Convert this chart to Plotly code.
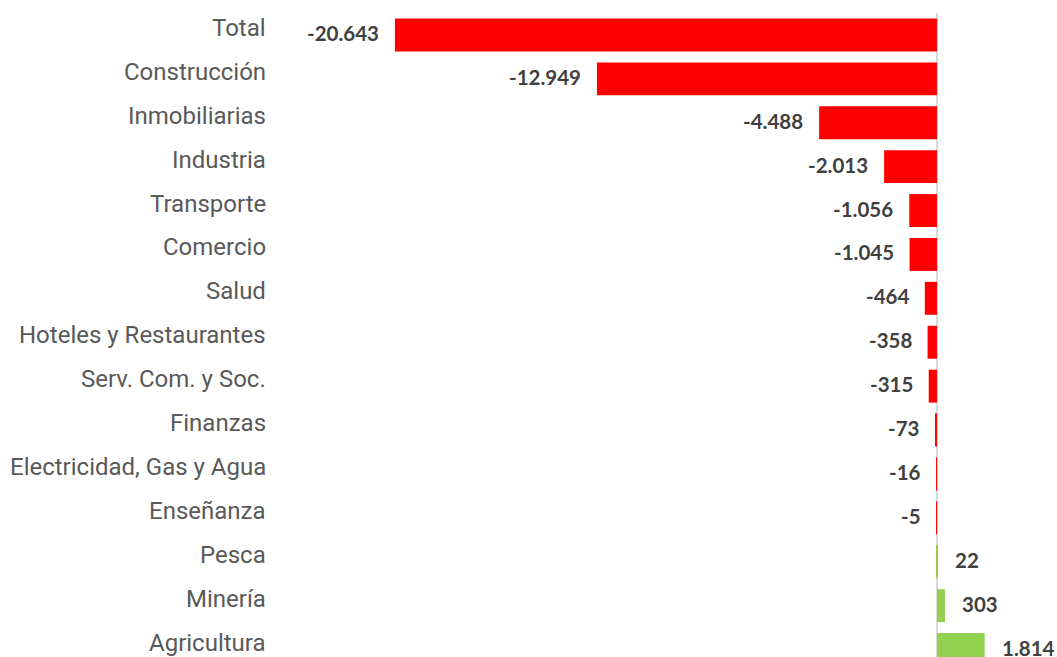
import plotly.graph_objects as go

categories = ["Total", "Construcción", "Inmobiliarias", "Industria", "Transporte",
              "Comercio", "Salud", "Hoteles y Restaurantes", "Serv. Com. y Soc.",
              "Finanzas", "Electricidad, Gas y Agua", "Enseñanza", "Pesca",
              "Minería", "Agricultura"]
values = [-20643, -12949, -4488, -2013, -1056, -1045, -464, -358, -315, -73,
          -16, -5, 22, 303, 1814]

RED = "#ff0000"
GREEN = "#92d050"
colors = [RED if v < 0 else GREEN for v in values]

def fmt(v):
    return f"{v:,}".replace(",", ".")

fig = go.Figure(go.Bar(
    x=values, y=categories, orientation="h",
    marker=dict(color=colors, line=dict(width=0)),
    width=0.75, hoverinfo="skip",
))

for c, v in zip(categories, values):
    fig.add_annotation(
        x=v, y=c, text=f"<b>{fmt(v)}</b>", showarrow=False,
        xanchor="right" if v < 0 else "left",
        xshift=-14 if v < 0 else 15, yshift=2,
        font=dict(family="Lato", size=20.5, color="#404040"),
    )
    fig.add_annotation(
        xref="paper", x=0, y=c, text=c, showarrow=False,
        xanchor="right", xshift=-12, yshift=7,
        font=dict(family="Roboto", size=24, color="#595959"),
    )

fig.update_layout(
    width=1057, height=657,
    margin=dict(l=280, r=0, t=13, b=0, autoexpand=False),
    plot_bgcolor="white", paper_bgcolor="white",
    showlegend=False,
    xaxis=dict(range=[-25019, 4570], showgrid=False, showticklabels=False,
               zeroline=True, zerolinecolor="#d9d9d9", zerolinewidth=2,
               fixedrange=True, automargin=False),
    yaxis=dict(type="category", categoryorder="array", categoryarray=categories,
               range=[14.17, -0.5], showgrid=False, ticks="",
               showticklabels=False, automargin=False, fixedrange=True),
)

fig.write_html(
    "out.html",
    config={"displayModeBar": False},
    post_script="document.body.style.margin='0';document.body.style.overflow='hidden';",
)
